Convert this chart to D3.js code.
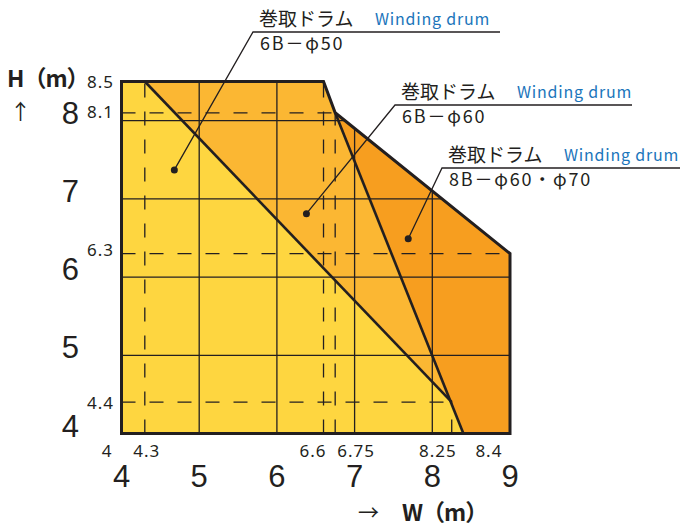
<!DOCTYPE html>
<html>
<head>
<meta charset="utf-8">
<script src="https://cdn.jsdelivr.net/npm/d3@7"></script>
<style>
  body { margin: 0; background: #fff; }
  text { font-family: "Noto Sans CJK JP", "Noto Sans", sans-serif; fill: #231f20; }
  .big { font-family: "Liberation Sans", Arial, sans-serif; font-size: 31px; }
  .small { font-family: "Noto Sans", sans-serif; font-size: 17px; letter-spacing: 1px; }
</style>
</head>
<body>
<svg id="chart" width="681" height="528"></svg>
<script>
// axis ticks
const bigXTicks = [4, 5, 6, 7, 8, 9];
const bigYTicks = [4, 5, 6, 7, 8];
const gridX = [5, 6, 7, 8];
const gridY = [5, 6, 7, 8];
const smallXLabels = ['4', '4.3', '6.6', '6.75', '8.25', '8.4'];
const smallYLabels = ['8.5', '8.1', '6.3', '4.4'];

// range regions (W, H)
const regionPhi50 = [[4, 4], [4, 8.5], [4.3, 8.5], [8.25, 4.4], [8.4, 4]];
const regionPhi60 = [[4.3, 8.5], [6.6, 8.5], [8.25, 4.4]];
const region8B = [[6.75, 8.1], [9, 6.3], [9, 4], [8.4, 4]];
const outline = [[4, 4], [4, 8.5], [6.6, 8.5], [6.75, 8.1], [9, 6.3], [9, 4]];
const edgePhi50 = [[4.3, 8.5], [8.25, 4.4]];
const edgePhi60 = [[6.75, 8.1], [8.4, 4]];

// dashed reference lines
const dashV = [[4.3, 4, 8.5], [6.6, 4, 8.5], [6.75, 4, 8.1], [8.25, 4, 4.4]];
const dashH = [[8.1, 4, 6.75], [6.3, 4, 9], [4.4, 4, 8.25]];

// callouts
const drumNames = ['巻取ドラム', '巻取ドラム', '巻取ドラム'];
const drumSpecs = ['6B－φ50', '6B－φ60', '8B－φ60・φ70'];
const drumPoints = [[4.68, 7.37], [6.38, 6.81], [7.69, 6.49]];

let svg = d3.select('#chart');
let x = d3.scaleLinear().domain([4, 9]).range([121.5, 510]);
let y = d3.scaleLinear().domain([4, 8.5]).range([433.5, 81.5]);
let line = d3.line().x(d => x(d[0])).y(d => y(d[1]));

const ink = '#231f20';

svg.append('clipPath').attr('id', 'area')
  .append('path').attr('d', line(outline) + 'Z');

let fills = [[regionPhi50, '#fed640'], [regionPhi60, '#fbb733'], [region8B, '#f79e1f']];
for (let f of fills) {
  svg.append('path')
    .attr('d', line(f[0]) + 'Z')
    .attr('fill', f[1]);
}

let grid = svg.append('g').attr('clip-path', 'url(#area)')
  .attr('stroke', ink).attr('stroke-width', 1.3);
for (let gx of gridX) {
  grid.append('line')
    .attr('x1', x(gx)).attr('x2', x(gx))
    .attr('y1', y(4)).attr('y2', y(8.5));
}
for (let gy of gridY) {
  grid.append('line')
    .attr('x1', x(4)).attr('x2', x(9))
    .attr('y1', y(gy)).attr('y2', y(gy));
}

let dash = svg.append('g')
  .attr('stroke', ink).attr('stroke-width', 1.3)
  .attr('stroke-dasharray', '14,14');
for (let d of dashV) {
  dash.append('line')
    .attr('x1', x(d[0])).attr('x2', x(d[0]))
    .attr('y1', y(d[1])).attr('y2', y(d[2]));
}
for (let d of dashH) {
  dash.append('line')
    .attr('x1', x(d[1])).attr('x2', x(d[2]))
    .attr('y1', y(d[0])).attr('y2', y(d[0]));
}

for (let e of [edgePhi50, edgePhi60]) {
  svg.append('path')
    .attr('d', line(e))
    .attr('fill', 'none')
    .attr('stroke', ink)
    .attr('stroke-width', 2.6);
}
svg.append('path')
  .attr('d', line(outline) + 'Z')
  .attr('fill', 'none')
  .attr('stroke', ink)
  .attr('stroke-width', 3)
  .attr('stroke-linejoin', 'miter');

// big tick labels
svg.selectAll('.bx').data(bigXTicks).enter().append('text')
  .attr('class', 'big')
  .attr('x', d => x(d))
  .attr('y', 487)
  .attr('text-anchor', 'middle')
  .text(d => d);
svg.selectAll('.by').data(bigYTicks).enter().append('text')
  .attr('class', 'big')
  .attr('x', 79)
  .attr('y', d => y(d) + 3)
  .attr('text-anchor', 'end')
  .text(d => d);

// small value labels
let smallXAnchor = ['end', 'middle', 'end', 'start', 'end', 'start'];
let smallXShift = [-9, 2, 3, 2, 5, 12];
svg.selectAll('.sx').data(smallXLabels).enter().append('text')
  .attr('class', 'small')
  .attr('x', (d, i) => x(+d) + smallXShift[i])
  .attr('y', 457)
  .attr('text-anchor', (d, i) => smallXAnchor[i])
  .text(d => d);
let smallYShift = [6, 5, 2, 7];
svg.selectAll('.sy').data(smallYLabels).enter().append('text')
  .attr('class', 'small')
  .attr('x', 114)
  .attr('y', (d, i) => y(+d) + smallYShift[i])
  .attr('text-anchor', 'end')
  .text(d => d);

// axis titles
svg.append('text')
  .attr('x', 7).attr('y', 87)
  .attr('font-size', 23).attr('font-weight', 'bold')
  .attr('letter-spacing', -1)
  .text('H（m）');
svg.append('text')
  .attr('x', 10).attr('y', 119)
  .attr('font-size', 21)
  .text('↑');
svg.append('text')
  .attr('x', 358).attr('y', 520)
  .attr('font-size', 21)
  .text('→');
svg.append('text')
  .attr('x', 402).attr('y', 521)
  .attr('font-size', 23).attr('font-weight', 'bold')
  .attr('letter-spacing', -1)
  .text('W（m）');

// callouts: leader from dot to an underline, name above, spec below
let callouts = [
  {lx: 253, ly: 32, end: 500},
  {lx: 395, ly: 105, end: 632},
  {lx: 442, ly: 168, end: 680}
];
callouts.forEach((c, i) => {
  let p = drumPoints[i];
  svg.append('path')
    .attr('d', `M${x(p[0])},${y(p[1])} L${c.lx},${c.ly} L${c.end},${c.ly}`)
    .attr('fill', 'none')
    .attr('stroke', ink)
    .attr('stroke-width', 1.3);
  svg.append('circle')
    .attr('cx', x(p[0])).attr('cy', y(p[1]))
    .attr('r', 3.5)
    .attr('fill', ink);
  svg.append('text')
    .attr('x', c.lx + 6).attr('y', c.ly - 6)
    .attr('font-size', 19)
    .text(drumNames[i]);
  svg.append('text')
    .attr('x', c.lx + 122).attr('y', c.ly - 7)
    .attr('font-family', '"Noto Sans", sans-serif')
    .attr('font-size', 16)
    .attr('letter-spacing', 0.8)
    .style('fill', '#1b75bb')
    .text('Winding drum');
  svg.append('text')
    .attr('x', c.lx + 7).attr('y', c.ly + 18)
    .attr('font-size', 18)
    .attr('letter-spacing', 1.8)
    .text(drumSpecs[i]);
});
</script>
</body>
</html>
